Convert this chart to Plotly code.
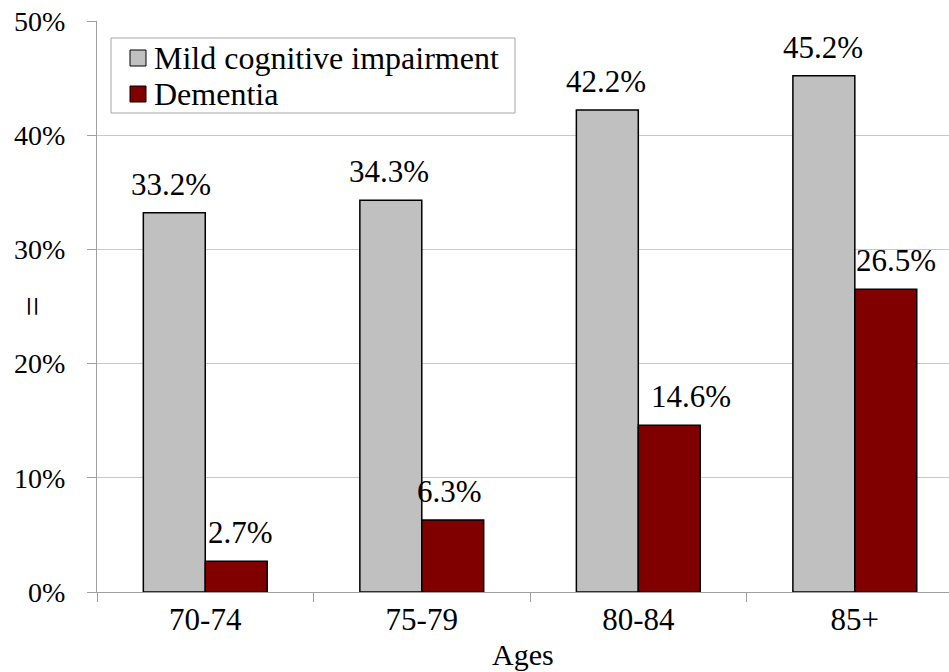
import plotly.graph_objects as go

# Prevalence of cognitive conditions by age group
ages = ["70-74", "75-79", "80-84", "85+"]
mci = [33.2, 34.3, 42.2, 45.2]
dementia = [2.7, 6.3, 14.6, 26.5]
series_names = ["Mild cognitive impairment", "Dementia"]
y_ticks = [0, 10, 20, 30, 40, 50]
y_tick_text = ["0%", "10%", "20%", "30%", "40%", "50%"]

FONT = "Times New Roman, Liberation Serif, serif"
W, H = 949, 672
ML, MR, MT, MB = 97, 0, 21, 80
BARGAP = 0.428
X_RANGE = [-0.5, 3.435]
COLORS = ["#c0c0c0", "#800000"]

# manual nudges of the value labels (px), per group: (mci, dementia)
label_dx = [(-3, 4), (-2, -3), (-1, 22), (-1, 10)]

plot_w = W - ML - MR
plot_h = H - MT - MB


def px(x):
    """pixel column -> paper x"""
    return (x - ML) / plot_w


def py(y):
    """pixel row -> paper y"""
    return (H - MB - y) / plot_h


fig = go.Figure()
for name, vals, col in zip(series_names, (mci, dementia), COLORS):
    fig.add_trace(go.Bar(
        x=ages, y=vals, name=name, showlegend=False,
        marker=dict(color=col, line=dict(color="black", width=1.5)),
    ))

# value labels above each bar
half = (1 - BARGAP) / 4
for i, (a, b) in enumerate(zip(mci, dementia)):
    for k, v in enumerate((a, b)):
        fig.add_annotation(
            x=i + (-half if k == 0 else half), y=v, xref="x", yref="y",
            text=f"{v:.1f}%", showarrow=False, yanchor="bottom",
            xshift=label_dx[i][k], yshift=9,
            font=dict(family=FONT, size=31, color="black"),
        )

# legend box with swatches
fig.add_shape(type="rect", xref="paper", yref="paper",
              x0=px(111), x1=px(515), y0=py(113), y1=py(38),
              fillcolor="white", line=dict(color="#a6a6a6", width=1), layer="above")
for j, (name, col) in enumerate(zip(series_names, COLORS)):
    cy = 58 + 36 * j
    fig.add_shape(type="rect", xref="paper", yref="paper",
                  x0=px(130), x1=px(146), y0=py(cy + 8), y1=py(cy - 8),
                  fillcolor=col, line=dict(color="black", width=1), layer="above")
    fig.add_annotation(x=px(152), y=py(cy), xref="paper", yref="paper",
                       text=name, showarrow=False, xanchor="left", yanchor="middle",
                       font=dict(family=FONT, size=32, color="black"))

# y-axis title
fig.add_annotation(
    x=px(32), y=0.5, xref="paper", yref="paper",
    text="=", textangle=-90, showarrow=False, xanchor="center", yanchor="middle",
    font=dict(family=FONT, size=36, color="black"),
)
# x-axis title
fig.add_annotation(
    x=0.5, y=py(654), xref="paper", yref="paper",
    text="Ages", showarrow=False, xanchor="center", yanchor="middle",
    font=dict(family=FONT, size=30, color="black"),
)

fig.update_layout(
    width=W, height=H,
    margin=dict(l=ML, r=MR, t=MT, b=MB, pad=0),
    paper_bgcolor="white", plot_bgcolor="white",
    barmode="group", bargap=BARGAP, bargroupgap=0,
    font=dict(family=FONT, size=28, color="black"),
    xaxis=dict(
        range=X_RANGE, showgrid=False, showline=True, linecolor="#a0a0a0",
        linewidth=1, ticks="outside", tickson="boundaries", ticklen=9,
        tickcolor="#a0a0a0", tickfont=dict(family=FONT, size=31, color="black"),
        zeroline=False,
    ),
    yaxis=dict(
        range=[0, 50], tickvals=y_ticks, ticktext=y_tick_text,
        showgrid=True, gridcolor="#c8c8c8", gridwidth=1,
        showline=True, linecolor="#a0a0a0", linewidth=1,
        ticks="outside", ticklen=9, tickcolor="#a0a0a0",
        tickfont=dict(family=FONT, size=28, color="black"),
        zeroline=False, ticklabelstandoff=16,
    ),
)

fig.write_html("out.html")
